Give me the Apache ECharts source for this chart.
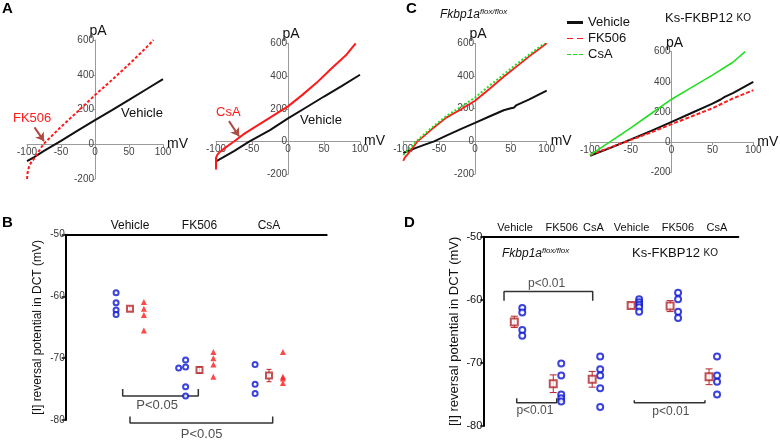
<!DOCTYPE html>
<html><head><meta charset="utf-8">
<script src="https://cdn.jsdelivr.net/npm/echarts@6/dist/echarts.min.js"></script>
<style>html,body{margin:0;padding:0;background:#fff}#c{width:780px;height:440px}</style>
</head><body><div id="c"></div>
<script>
// ================= DATA =================
// Panel A (left) I-V curves: Vehicle vs FK506
const aL_vehicle_mV = [-100, -90, -75, -60, -50, -25, 0, 25, 50, 75, 100];
const aL_vehicle_pA = [-97, -75, -38, -3, 20, 80, 139, 196, 255, 315, 375];
const aL_fk506_mV   = [-100, -99, -97, -94, -90, -85, -76, -50, -25, 0, 25, 50, 75, 86];
const aL_fk506_pA   = [-200, -160, -130, -105, -85, -55, 0, 100, 190, 283, 370, 460, 555, 600];
// Panel A (right): Vehicle vs CsA
const aR_vehicle_mV = [-100, -75, -54, -25, 0, 25, 50, 75, 100];
const aR_vehicle_pA = [-121, -58, 0, 70, 141, 208, 275, 340, 408];
const aR_csa_mV     = [-100, -100, -98, -95, -88, -75, -60, -40, -20, 0, 20, 40, 60, 80, 94];
const aR_csa_pA     = [-170, -100, -80, -65, -40, 0, 50, 105, 160, 215, 285, 360, 445, 525, 600];
// Panel C (left): Fkbp1a flox/flox
const cL_vehicle_mV = [-100, -85, -70, -57, -40, -20, 0, 20, 40, 50, 54, 58, 75, 100];
const cL_vehicle_pA = [-72, -45, -20, 0, 35, 75, 113, 152, 190, 202, 205, 222, 255, 310];
const cL_fk506_mV   = [-100, -98, -94, -80, -60, -40, -20, 0, 20, 40, 60, 80, 100];
const cL_fk506_pA   = [-120, -100, -80, 0, 75, 145, 195, 248, 320, 395, 465, 535, 600];
const cL_csa_mV     = [-100, -96, -90, -82, -60, -40, -20, 0, 20, 40, 60, 80, 97];
const cL_csa_pA     = [-85, -65, -40, 0, 85, 155, 210, 268, 340, 410, 480, 545, 600];
// Panel C (right): Ks-FKBP12 KO
const cR_vehicle_mV = [-100, -75, -58, -25, 0, 25, 50, 60, 65, 75, 90, 100];
const cR_vehicle_pA = [-90, -38, 0, 75, 135, 195, 255, 283, 300, 325, 370, 400];
const cR_fk506_mV   = [-100, -75, -50, -25, 0, 25, 50, 75, 100];
const cR_fk506_pA   = [-85, -35, 15, 65, 120, 172, 225, 290, 345];
const cR_csa_mV     = [-100, -90, -76, -50, -25, 0, 25, 50, 75, 90];
const cR_csa_pA     = [-85, -50, 0, 95, 190, 285, 365, 445, 530, 600];
const ivXTicks = [-100, -50, 0, 50, 100];
const ivYTicks = [-200, 0, 200, 400, 600];

// Panel B: reversal potential (mV)
const bGroups   = ['Vehicle', 'FK506', 'CsA'];
const bCircles  = [[-59.4, -61.0, -62.2, -62.9], [-70.3, -71.4, -71.6, -74.6, -76.1], [-71.0, -74.2, -75.7]];
const bTriangle = [[-60.9, -62.0, -63.0, -65.5], [-69.0, -70.0, -71.0, -73.0], [-69.0, -73.0, -73.3, -74.0]];
const bMean     = [-62.0, -71.9, -72.8];
const bSem      = [0.3, 0.5, 1.0];
const bYTicks   = [-80, -70, -60, -50];

// Panel D: reversal potential (mV)
const dGroups   = ['Vehicle', 'FK506', 'CsA', 'Vehicle', 'FK506', 'CsA'];
const dCircles  = [[-61.3, -62.0, -64.8, -65.7], [-70.1, -72.0, -75.0, -75.6, -76.1], [-69.0, -71.0, -72.0, -74.0, -77.0],
                   [-59.9, -60.4, -60.8, -61.2, -61.9], [-58.9, -59.9, -61.9, -62.9], [-69.0, -72.0, -73.0, -75.0]];
const dMean     = [-63.5, -73.3, -72.6, -60.9, -61.0, -72.2];
const dSem      = [0.9, 1.4, 1.25, 0.3, 0.87, 1.25];
const dYTicks   = [-80, -70, -60, -50];

// ================= STYLE / LAYOUT =================
const FONT = '"Liberation Sans", Arial, sans-serif';
const BLUE = '#0a14d2', RED = '#ff1a1a', DRED = '#b3262b', GREEN = '#22dd22', BLACK = '#111';
const zip = (a, b) => a.map((v, i) => [v, b[i]]);

const ivGrids = [
  {left: 27, top: 40, width: 136, height: 139},
  {left: 216, top: 43.3, width: 144, height: 131},
  {left: 403.3, top: 43.3, width: 143.4, height: 130.7},
  {left: 590, top: 51.7, width: 163.3, height: 120.6}
];
const gridB = {left: 65.7, top: 234.7, width: 261, height: 185.3};
const gridD = {left: 483.3, top: 236.7, width: 255, height: 189.3};

const yMin = ivYTicks[0], yMax = ivYTicks[ivYTicks.length - 1];
const xMin = ivXTicks[0], xMax = ivXTicks[ivXTicks.length - 1];

function ivX(i) {
  const g = ivGrids[i];
  return {gridIndex: i, type: 'value', min: xMin, max: xMax, interval: 50, position: 'bottom',
    offset: -g.height * (0 - yMin) / (yMax - yMin),
    axisLine: {onZero: false, lineStyle: {color: '#9a9a9a', width: 1}},
    axisTick: {length: 3, lineStyle: {color: '#9a9a9a'}},
    axisLabel: {fontFamily: FONT, fontSize: 10, color: '#444', margin: 3},
    splitLine: {show: false},
    name: 'mV', nameLocation: 'end', nameGap: 4, nameMoveOverlap: false,
    nameTextStyle: {fontFamily: FONT, fontSize: 14, color: BLACK, verticalAlign: 'middle', padding: [0, 0, 8, 0]}};
}
function ivY(i) {
  const g = ivGrids[i];
  return {gridIndex: i, type: 'value', min: yMin, max: yMax, interval: 200, position: 'left',
    offset: -g.width * (0 - xMin) / (xMax - xMin),
    axisLine: {onZero: false, lineStyle: {color: '#9a9a9a', width: 1}},
    axisTick: {length: 2, lineStyle: {color: '#9a9a9a'}},
    axisLabel: {fontFamily: FONT, fontSize: 10, color: '#444', margin: 1},
    splitLine: {show: false},
    name: 'pA', nameLocation: 'end', nameGap: 2, nameMoveOverlap: false,
    nameTextStyle: {fontFamily: FONT, fontSize: 14, color: BLACK, padding: [0, 0, 0, 6]}};
}
function ivLine(name, i, mv, pa, color, type, width) {
  return {name, type: 'line', xAxisIndex: i, yAxisIndex: i, data: zip(mv, pa), symbol: 'none',
    lineStyle: {color, type: type || 'solid', width: width || 2}, itemStyle: {color}, z: name === 'Vehicle' ? 3 : 4,
    silent: true, animation: false};
}

const bXmin = 0.075, bXmax = 3.83;
const dXmin = 0.204, dXmax = 6.751;
const dLabelPos = [1.02, 2.22, 3.03, 4.01, 5.2, 6.2];

function jitter(vals, base) {
  const out = []; const sorted = vals.slice().sort((a, b) => b - a);
  let prev = null, shifted = false;
  sorted.forEach(v => {
    let x = base;
    if (prev !== null && Math.abs(v - prev) < 0.5 && !shifted) { x = base - 0.1; shifted = true; } else shifted = false;
    out.push([x, v]); prev = v;
  });
  return out;
}

function errRender(color, cap) {
  return function (params, api) {
    const x = api.value(0), lo = api.value(1), hi = api.value(2);
    const p1 = api.coord([x, hi]), p2 = api.coord([x, lo]);
    const st = {stroke: color, lineWidth: 1};
    return {type: 'group', children: [
      {type: 'line', shape: {x1: p1[0], y1: p1[1], x2: p2[0], y2: p2[1]}, style: st},
      {type: 'line', shape: {x1: p1[0] - cap, y1: p1[1], x2: p1[0] + cap, y2: p1[1]}, style: st},
      {type: 'line', shape: {x1: p2[0] - cap, y1: p2[1], x2: p2[0] + cap, y2: p2[1]}, style: st}
    ]};
  };
}
function bracket(xi, yi, x1, x2, y, tip, color) {
  return {type: 'line', xAxisIndex: xi, yAxisIndex: yi, data: [[x1, tip], [x1, y], [x2, y], [x2, tip]],
    symbol: 'none', clip: false, lineStyle: {color: color || '#333', width: 1.5}, silent: true, animation: false};
}
function textAt(xi, yi, x, y, text, size) {
  return {type: 'scatter', xAxisIndex: xi, yAxisIndex: yi, data: [[x, y]], symbolSize: 1, clip: false,
    itemStyle: {color: 'transparent'}, silent: true, animation: false,
    label: {show: true, position: 'inside', formatter: text, fontFamily: FONT, fontSize: size || 12, color: '#222'}};
}

const series = [
  ivLine('Vehicle', 2, cL_vehicle_mV, cL_vehicle_pA, BLACK, 'solid', 2),
  ivLine('FK506', 2, cL_fk506_mV, cL_fk506_pA, RED, 'solid', 1.8),
  ivLine('CsA', 2, cL_csa_mV, cL_csa_pA, GREEN, [2, 2], 2),
  ivLine('Vehicle', 3, cR_vehicle_mV, cR_vehicle_pA, BLACK, 'solid', 2),
  ivLine('FK506', 3, cR_fk506_mV, cR_fk506_pA, RED, [4, 2], 2),
  ivLine('CsA', 3, cR_csa_mV, cR_csa_pA, GREEN, 'solid', 1.6),
  ivLine('Vehicle', 0, aL_vehicle_mV, aL_vehicle_pA, BLACK, 'solid', 2),
  Object.assign(ivLine('FK506', 0, aL_fk506_mV, aL_fk506_pA, RED, [3, 2], 2), {
    markLine: {silent: true, symbol: ['none', 'arrow'], symbolSize: 8, label: {show: false},
      lineStyle: {color: '#b04a40', type: 'solid', width: 2},
      data: [[{coord: [-89, 97]}, {coord: [-75, 18]}]]}}),
  ivLine('Vehicle', 1, aR_vehicle_mV, aR_vehicle_pA, BLACK, 'solid', 2),
  Object.assign(ivLine('CsA', 1, aR_csa_mV, aR_csa_pA, RED, 'solid', 2), {
    markLine: {silent: true, symbol: ['none', 'arrow'], symbolSize: 8, label: {show: false},
      lineStyle: {color: '#b04a40', type: 'solid', width: 2},
      data: [[{coord: [-82, 125]}, {coord: [-68, 32]}]]}})
];

bGroups.forEach((g, i) => {
  const c = i + 1;
  series.push({type: 'scatter', xAxisIndex: 4, yAxisIndex: 4, data: jitter(bCircles[i], c - 0.2), symbol: 'emptyCircle',
    symbolSize: 5, itemStyle: {color: BLUE, borderColor: BLUE, borderWidth: 1.8}, silent: true, animation: false, z: 5});
  series.push({type: 'scatter', xAxisIndex: 4, yAxisIndex: 4, data: bTriangle[i].map(v => [c + 0.2, v]), symbol: 'triangle',
    symbolSize: 6, itemStyle: {color: RED}, silent: true, animation: false, z: 5});
  series.push({type: 'custom', xAxisIndex: 4, yAxisIndex: 4, data: [[c, bMean[i] - bSem[i], bMean[i] + bSem[i]]],
    renderItem: errRender(DRED, 2.5), encode: {x: 0, y: [1, 2]}, silent: true, animation: false, z: 4});
  series.push({type: 'scatter', xAxisIndex: 4, yAxisIndex: 4, data: [[c, bMean[i]]], symbol: 'emptyRect',
    symbolSize: 6, itemStyle: {color: DRED, borderColor: DRED, borderWidth: 1.8}, silent: true, animation: false, z: 6});
});
series.push(bracket(4, 4, 0.895, 1.983, -76.1, -75.0));
series.push(textAt(4, 4, 1.39, -77.6, 'P<0.05', 13));
series.push(bracket(4, 4, 1.0, 3.053, -80.5, -79.45));
series.push(textAt(4, 4, 2.03, -82.4, 'P<0.05', 13));

dGroups.forEach((g, i) => {
  const c = i + 1;
  series.push({type: 'scatter', xAxisIndex: 5, yAxisIndex: 5, data: dCircles[i].map(v => [c + 0.205, v]), symbol: 'emptyCircle',
    symbolSize: 6, itemStyle: {color: BLUE, borderColor: BLUE, borderWidth: 2}, silent: true, animation: false, z: 5});
  series.push({type: 'custom', xAxisIndex: 5, yAxisIndex: 5, data: [[c, dMean[i] - dSem[i], dMean[i] + dSem[i]]],
    renderItem: errRender(DRED, 3.5), encode: {x: 0, y: [1, 2]}, silent: true, animation: false, z: 4});
  series.push({type: 'scatter', xAxisIndex: 5, yAxisIndex: 5, data: [[c, dMean[i]]], symbol: 'emptyRect',
    symbolSize: 7, itemStyle: {color: DRED, borderColor: DRED, borderWidth: 2}, silent: true, animation: false, z: 6});
});
series.push(bracket(5, 5, 0.736, 3.013, -58.7, -60.14));
series.push(textAt(5, 5, 1.83, -57.4, 'p<0.01', 12));
series.push(bracket(5, 5, 1.062, 2.089, -76.3, -75.6));
series.push(textAt(5, 5, 1.53, -77.5, 'p<0.01', 12));
series.push(bracket(5, 5, 4.081, 5.896, -76.3, -75.9));
series.push(textAt(5, 5, 5.02, -77.75, 'p<0.01', 12));

const nearestLabel = (pos, names) => v => { let bi = 0, bd = 1e9; pos.forEach((p, i) => { const d = Math.abs(p - v); if (d < bd) { bd = d; bi = i; } }); return names[bi]; };

const option = {
  backgroundColor: '#fff',
  animation: false,
  grid: [...ivGrids, gridB, gridD],
  legend: {orient: 'vertical', left: 562, top: 11, itemWidth: 16, itemHeight: 3, itemGap: 3,
    selectedMode: false, textStyle: {fontFamily: FONT, fontSize: 13, color: BLACK, padding: [0, 0, 0, 0]},
    data: [
      {name: 'Vehicle', icon: 'rect', itemStyle: {color: BLACK, borderWidth: 0}, lineStyle: {width: 0}},
      {name: 'FK506', icon: 'path://M0,0h6v1h-6z M10,0h6v1h-6z', itemStyle: {color: RED, borderWidth: 0}, lineStyle: {width: 0}},
      {name: 'CsA', icon: 'path://M0,0h4v1h-4z M6,0h4v1h-4z M12,0h4v1h-4z', itemStyle: {color: GREEN, borderWidth: 0}, lineStyle: {width: 0}}
    ]},
  xAxis: [ivX(0), ivX(1), ivX(2), ivX(3),
    {gridIndex: 4, type: 'value', position: 'top', min: bXmin, max: bXmax,
      axisLine: {onZero: false, lineStyle: {color: '#000', width: 2}}, axisTick: {show: false}, splitLine: {show: false},
      axisLabel: {customValues: [1, 2, 3], formatter: nearestLabel([1, 2, 3], bGroups), fontFamily: FONT, fontSize: 12, color: BLACK, margin: 3}},
    {gridIndex: 5, type: 'value', position: 'top', min: dXmin, max: dXmax,
      axisLine: {onZero: false, lineStyle: {color: '#000', width: 2}}, axisTick: {show: false}, splitLine: {show: false},
      axisLabel: {customValues: dLabelPos, formatter: nearestLabel(dLabelPos, dGroups), fontFamily: FONT, fontSize: 11, color: BLACK, margin: 3}}
  ],
  yAxis: [ivY(0), ivY(1), ivY(2), ivY(3),
    {gridIndex: 4, type: 'value', min: bYTicks[0], max: bYTicks[bYTicks.length - 1], interval: 10,
      axisLine: {onZero: false, lineStyle: {color: '#000', width: 2}}, axisTick: {length: 4, lineStyle: {color: '#000', width: 1.5}},
      axisLabel: {fontFamily: FONT, fontSize: 10, color: '#333', margin: 1}, splitLine: {show: false},
      name: '[I] reversal potential in DCT (mV)', nameLocation: 'middle', nameGap: 22, nameRotate: 90,
      nameTextStyle: {fontFamily: FONT, fontSize: 12, color: BLACK}},
    {gridIndex: 5, type: 'value', min: dYTicks[0], max: dYTicks[dYTicks.length - 1], interval: 10,
      axisLine: {onZero: false, lineStyle: {color: '#000', width: 2}}, axisTick: {length: 3, lineStyle: {color: '#000', width: 1.5}},
      axisLabel: {fontFamily: FONT, fontSize: 11, color: BLACK, margin: 1}, splitLine: {show: false},
      name: '[I] reversal potential in DCT (mV)', nameLocation: 'middle', nameGap: 22, nameRotate: 90,
      nameTextStyle: {fontFamily: FONT, fontSize: 13, color: BLACK}}
  ],
  series,
  graphic: [
    {type: 'text', left: 2, top: 1, style: {text: 'A', font: 'bold 15px ' + FONT, fill: '#000'}},
    {type: 'text', left: 406, top: 1, style: {text: 'C', font: 'bold 15px ' + FONT, fill: '#000'}},
    {type: 'text', left: 2, top: 215, style: {text: 'B', font: 'bold 15px ' + FONT, fill: '#000'}},
    {type: 'text', left: 404, top: 215, style: {text: 'D', font: 'bold 15px ' + FONT, fill: '#000'}},
    {type: 'text', left: 13, top: 112, style: {text: 'FK506', font: '13px ' + FONT, fill: RED}},
    {type: 'text', left: 121, top: 107, style: {text: 'Vehicle', font: '13px ' + FONT, fill: BLACK}},
    {type: 'text', left: 216, top: 106, style: {text: 'CsA', font: '13px ' + FONT, fill: RED}},
    {type: 'text', left: 300, top: 114, style: {text: 'Vehicle', font: '13px ' + FONT, fill: BLACK}},
    {type: 'text', left: 440, top: 8, style: {text: '{a|Fkbp1a}{b|flox/flox}', rich: {
      a: {fontFamily: FONT, fontStyle: 'italic', fontSize: 12, fill: BLACK},
      b: {fontFamily: FONT, fontStyle: 'italic', fontSize: 8, fill: BLACK, verticalAlign: 'top', padding: [0, 0, 5, 0]}}}},
    {type: 'text', left: 665, top: 12, style: {text: '{a|Ks-FKBP12 }{b|KO}', rich: {
      a: {fontFamily: FONT, fontSize: 13, fill: BLACK}, b: {fontFamily: FONT, fontSize: 10, fill: BLACK}}}},
    {type: 'text', left: 502, top: 247, style: {text: '{a|Fkbp1a}{b|flox/flox}', rich: {
      a: {fontFamily: FONT, fontStyle: 'italic', fontSize: 12, fill: BLACK},
      b: {fontFamily: FONT, fontStyle: 'italic', fontSize: 8, fill: BLACK, verticalAlign: 'top', padding: [0, 0, 5, 0]}}}},
    {type: 'text', left: 632, top: 247, style: {text: '{a|Ks-FKBP12 }{b|KO}', rich: {
      a: {fontFamily: FONT, fontSize: 13, fill: BLACK}, b: {fontFamily: FONT, fontSize: 10, fill: BLACK}}}}
  ]
};
const chart = echarts.init(document.getElementById('c'), null, {renderer: 'canvas'});
chart.setOption(option);
</script></body></html>
